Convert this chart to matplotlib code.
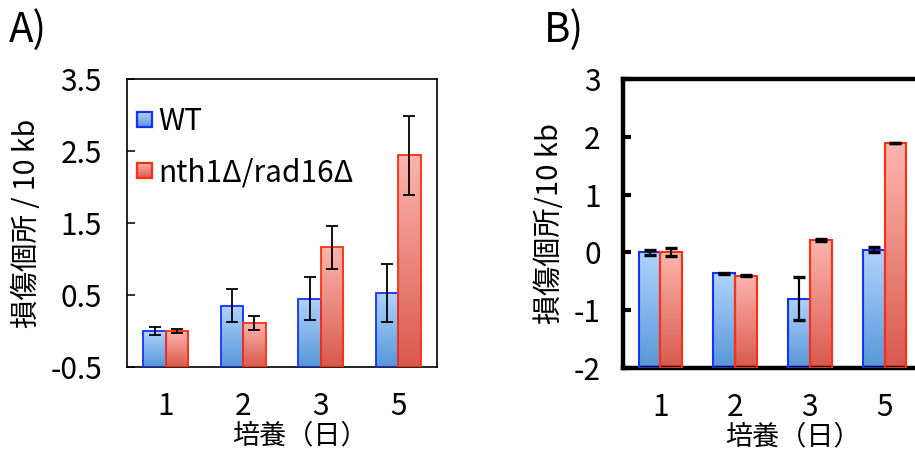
import numpy as np
import matplotlib
matplotlib.use("Agg")
import matplotlib.pyplot as plt
from matplotlib.colors import LinearSegmentedColormap, to_rgb
from matplotlib.patches import Rectangle
from matplotlib.legend_handler import HandlerBase

plt.rcParams['font.family'] = ['Noto Sans CJK JP', 'DejaVu Sans']

# ---- data ----
days = ["1", "2", "3", "5"]
series_names = ["WT", "nth1Δ/rad16Δ"]

a_wt = [0.00, 0.35, 0.45, 0.53]
a_wt_err = [0.06, 0.23, 0.30, 0.40]
a_mut = [0.00, 0.11, 1.16, 2.44]
a_mut_err = [0.03, 0.10, 0.30, 0.55]

b_wt = [0.00, -0.36, -0.80, 0.05]
b_wt_err = [0.04, 0.01, 0.37, 0.04]
b_mut = [0.00, -0.40, 0.22, 1.89]
b_mut_err = [0.07, 0.01, 0.02, 0.005]

a_yticks = [-0.5, 0.5, 1.5, 2.5, 3.5]
b_yticks = [-2, -1, 0, 1, 2, 3]

# ---- styling ----
blue_top, blue_bot, blue_edge = "#b0d3fc", "#5797d8", "#1530ff"
red_top, red_bot, red_edge = "#fdb5ae", "#d8594c", "#ff2e10"
cmap_blue = LinearSegmentedColormap.from_list("bl", [blue_bot, blue_top])
cmap_red = LinearSegmentedColormap.from_list("rd", [red_bot, red_top])
grad = np.linspace(0, 1, 256).reshape(-1, 1)

FONT = ['Noto Sans CJK JP', 'DejaVu Sans']


def gradient_bars(ax, x, vals, base, width, cmap, edge, lw):
    bars = ax.bar(x, np.asarray(vals) - base, bottom=base, width=width,
                  facecolor="none", edgecolor=edge, linewidth=lw, zorder=3)
    for b in bars:
        x0, y0 = b.get_x(), b.get_y()
        x1, y1 = x0 + b.get_width(), y0 + b.get_height()
        im = ax.imshow(grad, extent=[x0, x1, y0, y1], origin="lower",
                       aspect="auto", cmap=cmap, zorder=2,
                       interpolation="bilinear")
        im.set_clip_path(b)
    return bars


class GradientSquare(HandlerBase):
    def __init__(self, top, bot, edge):
        super().__init__()
        self.top, self.bot, self.edge = to_rgb(top), to_rgb(bot), edge

    def create_artists(self, legend, orig_handle, xdescent, ydescent,
                       width, height, fontsize, trans):
        side = min(width, height)
        x0, y0 = -xdescent, -ydescent + (height - side) / 2
        arts = []
        n = 10
        for k in range(n):
            t = (k + 0.5) / n
            c = tuple(self.bot[i] + (self.top[i] - self.bot[i]) * t for i in range(3))
            arts.append(Rectangle((x0, y0 + side * k / n), side, side / n,
                                  facecolor=c, edgecolor="none", transform=trans))
        arts.append(Rectangle((x0, y0), side, side, facecolor="none",
                              edgecolor=self.edge, linewidth=1.6, transform=trans))
        return arts


W, H = 9.15, 4.53
fig = plt.figure(figsize=(W, H), dpi=100)

x = np.arange(len(days))
bw = 0.29

# ---- panel A ----
axA = fig.add_axes([127 / 915, 86 / 453, 310 / 915, 288 / 453])
gradient_bars(axA, x - bw / 2, a_wt, -0.5, bw, cmap_blue, blue_edge, 1.3)
gradient_bars(axA, x + bw / 2, a_mut, -0.5, bw, cmap_red, red_edge, 1.3)
axA.errorbar(x - bw / 2, a_wt, yerr=a_wt_err, fmt="none", ecolor="black",
             elinewidth=1.3, capsize=4, capthick=1.3, zorder=4)
axA.errorbar(x + bw / 2, a_mut, yerr=a_mut_err, fmt="none", ecolor="black",
             elinewidth=1.3, capsize=4, capthick=1.3, zorder=4)
axA.set_xlim(-0.5, 3.5)
axA.set_ylim(-0.5, 3.5)
axA.set_yticks(a_yticks)
axA.set_yticklabels([f"{v:g}" for v in a_yticks])
axA.set_xticks(x)
axA.set_xticklabels(days)
axA.tick_params(axis="y", direction="in", length=6, width=1.1, pad=18,
                labelsize=21.5)
axA.tick_params(axis="x", length=0, pad=17, labelsize=21.5)
for s in axA.spines.values():
    s.set_linewidth(1.2)
axA.set_ylabel("損傷個所 / 10 kb", fontsize=20.5, labelpad=6)
axA.set_xlabel("培養（日）", fontsize=19.5, labelpad=0)
axA.xaxis.set_label_coords(0.558, -0.193)

h1 = Rectangle((0, 0), 1, 1)
h2 = Rectangle((0, 0), 1, 1)
leg = axA.legend([h1, h2], series_names,
                 handler_map={h1: GradientSquare(blue_top, blue_bot, blue_edge),
                              h2: GradientSquare(red_top, red_bot, red_edge)},
                 loc="upper left", bbox_to_anchor=(0.033, 0.905), frameon=False,
                 fontsize=21.5, handlelength=0.5, handleheight=0.5,
                 handletextpad=0.2, labelspacing=0.66, borderpad=0,
                 borderaxespad=0)

# ---- panel B ----
axB = fig.add_axes([623 / 915, 85 / 453, 299 / 915, 289 / 453])
gradient_bars(axB, x - bw / 2, b_wt, -2, bw, cmap_blue, blue_edge, 1.5)
gradient_bars(axB, x + bw / 2, b_mut, -2, bw, cmap_red, red_edge, 1.5)
axB.errorbar(x - bw / 2, b_wt, yerr=b_wt_err, fmt="none", ecolor="black",
             elinewidth=1.6, capsize=4.5, capthick=2.4, zorder=4)
axB.errorbar(x + bw / 2, b_mut, yerr=b_mut_err, fmt="none", ecolor="black",
             elinewidth=1.6, capsize=4.5, capthick=2.4, zorder=4)
axB.set_xlim(-0.5, 3.5)
axB.set_ylim(-2, 3)
axB.set_yticks(b_yticks)
axB.set_yticklabels([f"{v:g}" for v in b_yticks])
axB.set_xticks(x)
axB.set_xticklabels(days)
axB.tick_params(axis="y", direction="in", length=6, width=3, pad=16,
                labelsize=21.5)
axB.tick_params(axis="x", length=0, pad=17, labelsize=21.5)
for s in axB.spines.values():
    s.set_linewidth(3.2)
axB.set_ylabel("損傷個所/10 kb", fontsize=21, labelpad=6)
axB.set_xlabel("培養（日）", fontsize=19.5, labelpad=0)
axB.xaxis.set_label_coords(0.567, -0.193)

# ---- panel tags ----
fig.text(9 / 915, 1 - 42 / 453, "A)", fontsize=29, family=FONT)
fig.text(544 / 915, 1 - 42 / 453, "B)", fontsize=29, family=FONT)

fig.savefig("out.png", dpi=100)
